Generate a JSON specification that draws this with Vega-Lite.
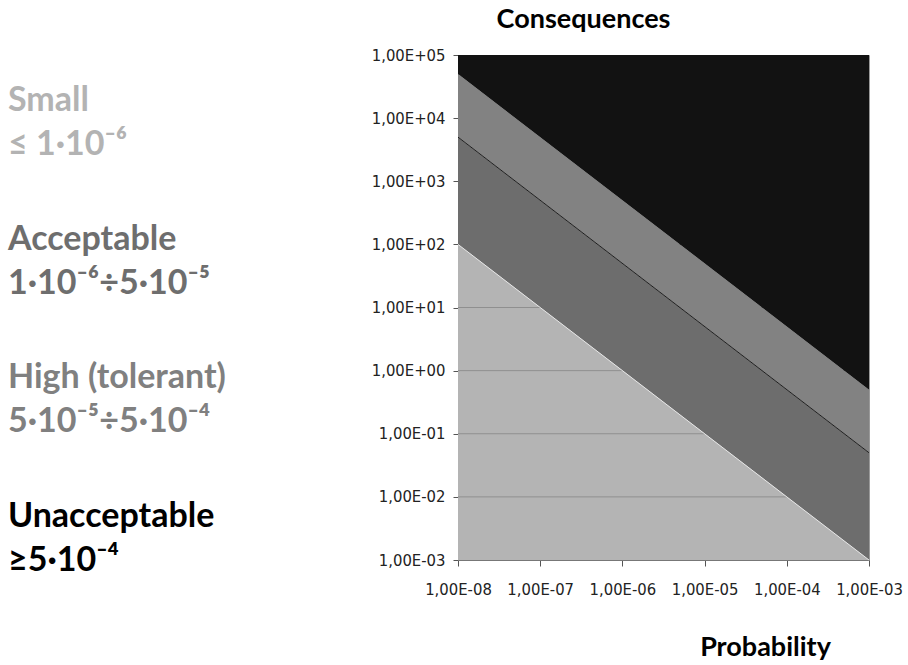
{
  "$schema": "https://vega.github.io/schema/vega-lite/v6.json",
  "padding": {"left": 0, "top": 4, "right": 0, "bottom": 0},
  "background": "white",
  "bounds": "flush",
  "config": {"view": {"stroke": null}, "concat": {"spacing": 442}},
  "resolve": {"scale": {"color": "independent"}},
  "datasets": {
    "labels": [
      {"rank": 0, "name": "Small", "text": "Small\n≤ 1·10⁻⁶"},
      {"rank": 1, "name": "Acceptable", "text": "Acceptable\n1·10⁻⁶÷5·10⁻⁵"},
      {"rank": 2, "name": "High (tolerant)", "text": "High (tolerant)\n5·10⁻⁵÷5·10⁻⁴"},
      {"rank": 3, "name": "Unacceptable", "text": "Unacceptable\n≥5·10⁻⁴"}
    ],
    "bands": [
      {"band": "Small", "P": 1e-8, "lo": 0.001, "hi": 100},
      {"band": "Small", "P": 0.001, "lo": 0.001, "hi": 0.001},
      {"band": "Acceptable", "P": 1e-8, "lo": 100, "hi": 5000},
      {"band": "Acceptable", "P": 0.001, "lo": 0.001, "hi": 0.05},
      {"band": "High (tolerant)", "P": 1e-8, "lo": 5000, "hi": 50000},
      {"band": "High (tolerant)", "P": 0.001, "lo": 0.05, "hi": 0.5},
      {"band": "Unacceptable", "P": 1e-8, "lo": 50000, "hi": 100000},
      {"band": "Unacceptable", "P": 0.001, "lo": 0.5, "hi": 100000}
    ],
    "grid": [{"C": 0.01}, {"C": 0.1}, {"C": 1}, {"C": 10}, {"C": 100}],
    "edges": [
      {"edge": "5e-5", "P": 1e-8, "C": 5000},
      {"edge": "5e-5", "P": 0.001, "C": 0.05},
      {"edge": "1e-6", "P": 1e-8, "C": 100},
      {"edge": "1e-6", "P": 0.001, "C": 0.001}
    ]
  },
  "hconcat": [
    {
      "width": 16,
      "height": 505,
      "data": {"name": "labels"},
      "mark": {"type": "text", "align": "left", "baseline": "alphabetic", "font": "Lato, Noto Sans, sans-serif", "fontWeight": "bold", "fontSize": 34, "lineBreak": "\n", "lineHeight": 44},
      "encoding": {
        "y": {"field": "rank", "type": "quantitative", "scale": {"domain": [-0.404, 3.237], "reverse": true, "nice": false, "zero": false}, "axis": null},
        "text": {"field": "text", "type": "nominal"},
        "color": {"field": "name", "type": "nominal", "scale": {"domain": ["Small", "Acceptable", "High (tolerant)", "Unacceptable"], "range": ["#b3b3b3", "#6e6e6e", "#808080", "#000000"]}, "legend": null}
      }
    },
    {
      "width": 411,
      "height": 505,
      "view": {"stroke": "#9a9a9a", "strokeWidth": 1},
      "encoding": {
        "x": {"field": "P", "type": "quantitative", "scale": {"type": "log", "domain": [1e-8, 0.001], "nice": false},
          "axis": {"values": [1e-8, 1e-7, 1e-6, 1e-5, 1e-4, 0.001], "grid": false, "labelFlush": false, "labelOverlap": false,
            "labelExpr": "'1,00E' + (round(log(datum.value)/LN10) < 0 ? '-' : '+') + (abs(round(log(datum.value)/LN10)) < 10 ? '0' : '') + abs(round(log(datum.value)/LN10))",
            "domainColor": "#777777", "tickColor": "#555555", "tickSize": 6, "labelPadding": 15,
            "labelFont": "Liberation Sans Narrow, DejaVu Sans Condensed, sans-serif", "labelFontSize": 16.5, "labelColor": "#222222",
            "title": "Probability", "titleX": 307, "titleY": 95, "titleAlign": "center", "titleBaseline": "alphabetic",
            "titleFont": "Lato, Noto Sans, sans-serif", "titleFontSize": 27, "titleFontWeight": "bold", "titleColor": "#000000"}},
        "y": {"field": "lo", "type": "quantitative", "stack": null, "scale": {"type": "log", "domain": [0.001, 100000], "nice": false},
          "axis": {"values": [0.001, 0.01, 0.1, 1, 10, 100, 1000, 10000, 100000], "grid": false, "labelFlush": false, "labelOverlap": false,
            "labelExpr": "'1,00E' + (round(log(datum.value)/LN10) < 0 ? '-' : '+') + (abs(round(log(datum.value)/LN10)) < 10 ? '0' : '') + abs(round(log(datum.value)/LN10))",
            "domainColor": "#8c8c8c", "tickColor": "#555555", "tickSize": 5, "labelPadding": 8,
            "labelFont": "Liberation Sans Narrow, DejaVu Sans Condensed, sans-serif", "labelFontSize": 16.5, "labelColor": "#222222",
            "title": "Consequences", "titleAngle": 0, "titleX": 125, "titleY": -28, "titleAlign": "center", "titleBaseline": "alphabetic",
            "titleFont": "Lato, Noto Sans, sans-serif", "titleFontSize": 27, "titleFontWeight": "bold", "titleColor": "#000000"}}
      },
      "layer": [
        {
          "data": {"name": "bands"},
          "transform": [{"filter": "datum.band === 'Small'"}],
          "mark": {"type": "area", "opacity": 1},
          "encoding": {
            "y2": {"field": "hi"},
            "color": {"field": "band", "type": "nominal", "scale": {"domain": ["Small", "Acceptable", "High (tolerant)", "Unacceptable"], "range": ["#b4b4b4", "#6d6d6d", "#828282", "#121212"]}, "legend": null}
          }
        },
        {
          "data": {"name": "grid"},
          "mark": {"type": "rule", "color": "#8f8f8f", "strokeWidth": 1},
          "encoding": {
            "x": null,
            "y": {"field": "C", "type": "quantitative"}
          }
        },
        {
          "data": {"name": "bands"},
          "transform": [{"filter": "datum.band !== 'Small'"}],
          "mark": {"type": "area", "opacity": 1},
          "encoding": {
            "y2": {"field": "hi"},
            "color": {"field": "band", "type": "nominal", "legend": null}
          }
        },
        {
          "data": {"name": "edges"},
          "mark": {"type": "line", "strokeWidth": 1},
          "encoding": {
            "y": {"field": "C", "type": "quantitative"},
            "stroke": {"field": "edge", "type": "nominal", "scale": {"domain": ["5e-5", "1e-6"], "range": ["#1e1e1e", "#e6e6e6"]}, "legend": null}
          }
        }
      ]
    }
  ]
}
